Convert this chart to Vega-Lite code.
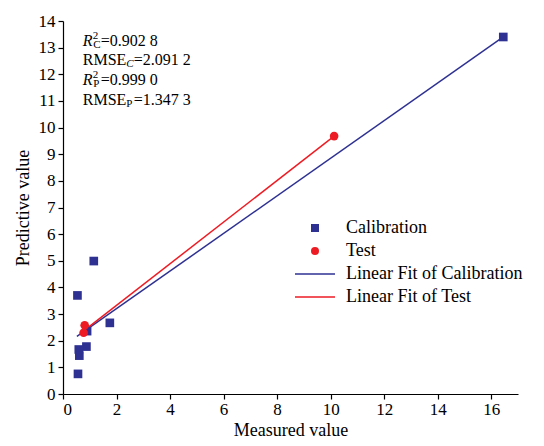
{
  "$schema": "https://vega.github.io/schema/vega-lite/v6.json",
  "width": 455,
  "height": 373,
  "autosize": "none",
  "padding": {"left": 63, "top": 21, "right": 26, "bottom": 52},
  "background": "white",
  "config": {
    "font": "Liberation Serif",
    "view": {"stroke": null},
    "axis": {
      "labelFont": "Liberation Serif", "titleFont": "Liberation Serif",
      "labelFontSize": 17, "titleFontSize": 18, "titleFontWeight": "normal",
      "labelColor": "black", "titleColor": "black", "domainColor": "black", "tickColor": "black",
      "grid": false, "tickSize": 5, "domainWidth": 1.2, "tickWidth": 1.2, "labelOverlap": false
    },
    "axisX": {"values": [0,1,2,3,4,5,6,7,8,9,10,11,12,13,14,15,16,17], "labelPadding": 2, "titlePadding": 4},
    "axisY": {"values": [0,1,2,3,4,5,6,7,8,9,10,11,12,13,14], "labelPadding": 3, "titlePadding": 6}
  },
  "datasets": {
    "points": [
      {"series": "Calibration", "measured": 0.54, "predicted": 3.70},
      {"series": "Calibration", "measured": 1.15, "predicted": 4.99},
      {"series": "Calibration", "measured": 1.75, "predicted": 2.67},
      {"series": "Calibration", "measured": 0.90, "predicted": 2.36},
      {"series": "Calibration", "measured": 0.875, "predicted": 1.78},
      {"series": "Calibration", "measured": 0.59, "predicted": 1.67},
      {"series": "Calibration", "measured": 0.61, "predicted": 1.44},
      {"series": "Calibration", "measured": 0.56, "predicted": 0.755},
      {"series": "Calibration", "measured": 16.45, "predicted": 13.4},
      {"series": "Test", "measured": 0.81, "predicted": 2.58},
      {"series": "Test", "measured": 0.77, "predicted": 2.30},
      {"series": "Test", "measured": 10.13, "predicted": 9.68}
    ],
    "fits": [
      {"series": "Linear Fit of Calibration", "measured": 0.52, "predicted": 2.16},
      {"series": "Linear Fit of Calibration", "measured": 16.45, "predicted": 13.4},
      {"series": "Linear Fit of Test", "measured": 0.75, "predicted": 2.35},
      {"series": "Linear Fit of Test", "measured": 10.13, "predicted": 9.68}
    ],
    "stats": [
      {"stat": "R2C", "head": "R", "sup": "2", "sub": "C", "val": " =0.902 8"},
      {"stat": "RMSEC", "head": "RMSE", "sup": "", "sub": "C", "val": "=2.091 2"},
      {"stat": "R2P", "head": "R", "sup": "2", "sub": "P", "val": "=0.999 0"},
      {"stat": "RMSEP", "head": "RMSE", "sup": "", "sub": "P", "val": "=1.347 3"}
    ]
  },
  "layer": [
    {
      "data": {"name": "fits"},
      "mark": {"type": "line", "strokeWidth": 1.5},
      "encoding": {
        "x": {
          "field": "measured", "type": "quantitative",
          "scale": {"domain": [0, 17], "nice": false, "zero": false},
          "axis": {"title": "Measured value", "encode": {"labels": {"update": {"font": {"value": "Liberation Serif"}, "fontSize": {"value": 17}, "fill": {"value": "black"}}}}}
        },
        "y": {
          "field": "predicted", "type": "quantitative",
          "scale": {"domain": [0, 14], "nice": false, "zero": false},
          "axis": {"title": "Predictive value", "encode": {"labels": {"update": {"font": {"value": "Liberation Serif"}, "fontSize": {"value": 17}, "fill": {"value": "black"}}}}}
        },
        "color": {
          "field": "series", "type": "nominal",
          "scale": {
            "domain": ["Calibration", "Test", "Linear Fit of Calibration", "Linear Fit of Test"],
            "range": ["#2E3192", "#ED1C24", "#2E3192", "#ED1C24"]
          },
          "legend": {
            "title": null, "orient": "none", "legendX": 243, "legendY": 198,
            "labelFont": "Liberation Serif", "labelFontSize": 18, "labelColor": "black",
            "labelOffset": 22, "labelLimit": 0, "rowPadding": 5, "symbolSize": 64, "padding": 0,
            "encode": {"symbols": {"update": {"fill": {"scale": "color", "field": "value"}, "strokeWidth": {"value": 0}, "opacity": {"value": 1}}}}
          }
        },
        "detail": {"field": "series"}
      }
    },
    {
      "data": {"name": "points"},
      "mark": {"type": "point", "filled": true, "size": 75, "opacity": 1},
      "encoding": {
        "x": {"field": "measured", "type": "quantitative", "title": "Measured value"},
        "y": {"field": "predicted", "type": "quantitative", "title": "Predictive value"},
        "color": {"field": "series", "type": "nominal"},
        "shape": {
          "field": "series", "type": "nominal",
          "scale": {
            "domain": ["Calibration", "Test", "Linear Fit of Calibration", "Linear Fit of Test"],
            "range": ["square", "circle", "M-5,-0.19H5V0.19H-5Z", "M-5,-0.19H5V0.19H-5Z"]
          },
          "legend": {
            "title": null, "orient": "none", "legendX": 243, "legendY": 198,
            "labelFont": "Liberation Serif", "labelFontSize": 18, "labelColor": "black",
            "labelOffset": 22, "labelLimit": 0, "rowPadding": 5, "symbolSize": 64, "padding": 0,
            "encode": {"symbols": {"update": {"fill": {"scale": "color", "field": "value"}, "strokeWidth": {"value": 0}, "opacity": {"value": 1}}}}
          }
        }
      }
    },
    {"data": {"name": "stats"}, "transform": [{"filter": "datum.stat == 'R2C'"}],
     "mark": {"type": "text", "font": "Liberation Serif", "fontSize": 16, "fontStyle": "italic", "align": "left", "baseline": "middle", "color": "black"},
     "encoding": {"x": {"datum": 0.74, "type": "quantitative", "title": "Measured value"}, "y": {"datum": 13.25, "type": "quantitative", "title": "Predictive value"}, "text": {"field": "head"}}},
    {"data": {"name": "stats"}, "transform": [{"filter": "datum.stat == 'R2C'"}],
     "mark": {"type": "text", "font": "Liberation Serif", "fontSize": 11, "dx": 10, "dy": -5, "align": "left", "baseline": "middle", "color": "black"},
     "encoding": {"x": {"datum": 0.74, "type": "quantitative", "title": "Measured value"}, "y": {"datum": 13.25, "type": "quantitative", "title": "Predictive value"}, "text": {"field": "sup"}}},
    {"data": {"name": "stats"}, "transform": [{"filter": "datum.stat == 'R2C'"}],
     "mark": {"type": "text", "font": "Liberation Serif", "fontSize": 11, "dx": 10.5, "dy": 4, "align": "left", "baseline": "middle", "color": "black"},
     "encoding": {"x": {"datum": 0.74, "type": "quantitative", "title": "Measured value"}, "y": {"datum": 13.25, "type": "quantitative", "title": "Predictive value"}, "text": {"field": "sub"}}},
    {"data": {"name": "stats"}, "transform": [{"filter": "datum.stat == 'R2C'"}],
     "mark": {"type": "text", "font": "Liberation Serif", "fontSize": 16, "dx": 18, "align": "left", "baseline": "middle", "color": "black"},
     "encoding": {"x": {"datum": 0.74, "type": "quantitative", "title": "Measured value"}, "y": {"datum": 13.25, "type": "quantitative", "title": "Predictive value"}, "text": {"field": "val"}}},
    {"data": {"name": "stats"}, "transform": [{"filter": "datum.stat == 'RMSEC'"}],
     "mark": {"type": "text", "font": "Liberation Serif", "fontSize": 16, "align": "left", "baseline": "middle", "color": "black"},
     "encoding": {"x": {"datum": 0.74, "type": "quantitative", "title": "Measured value"}, "y": {"datum": 12.53, "type": "quantitative", "title": "Predictive value"}, "text": {"field": "head"}}},
    {"data": {"name": "stats"}, "transform": [{"filter": "datum.stat == 'RMSEC'"}],
     "mark": {"type": "text", "font": "Liberation Serif", "fontSize": 11, "fontStyle": "italic", "dx": 43.5, "dy": 4, "align": "left", "baseline": "middle", "color": "black"},
     "encoding": {"x": {"datum": 0.74, "type": "quantitative", "title": "Measured value"}, "y": {"datum": 12.53, "type": "quantitative", "title": "Predictive value"}, "text": {"field": "sub"}}},
    {"data": {"name": "stats"}, "transform": [{"filter": "datum.stat == 'RMSEC'"}],
     "mark": {"type": "text", "font": "Liberation Serif", "fontSize": 16, "dx": 51, "align": "left", "baseline": "middle", "color": "black"},
     "encoding": {"x": {"datum": 0.74, "type": "quantitative", "title": "Measured value"}, "y": {"datum": 12.53, "type": "quantitative", "title": "Predictive value"}, "text": {"field": "val"}}},
    {"data": {"name": "stats"}, "transform": [{"filter": "datum.stat == 'R2P'"}],
     "mark": {"type": "text", "font": "Liberation Serif", "fontSize": 16, "fontStyle": "italic", "align": "left", "baseline": "middle", "color": "black"},
     "encoding": {"x": {"datum": 0.74, "type": "quantitative", "title": "Measured value"}, "y": {"datum": 11.78, "type": "quantitative", "title": "Predictive value"}, "text": {"field": "head"}}},
    {"data": {"name": "stats"}, "transform": [{"filter": "datum.stat == 'R2P'"}],
     "mark": {"type": "text", "font": "Liberation Serif", "fontSize": 11, "dx": 10, "dy": -5, "align": "left", "baseline": "middle", "color": "black"},
     "encoding": {"x": {"datum": 0.74, "type": "quantitative", "title": "Measured value"}, "y": {"datum": 11.78, "type": "quantitative", "title": "Predictive value"}, "text": {"field": "sup"}}},
    {"data": {"name": "stats"}, "transform": [{"filter": "datum.stat == 'R2P'"}],
     "mark": {"type": "text", "font": "Liberation Serif", "fontSize": 11, "dx": 10.5, "dy": 4, "align": "left", "baseline": "middle", "color": "black"},
     "encoding": {"x": {"datum": 0.74, "type": "quantitative", "title": "Measured value"}, "y": {"datum": 11.78, "type": "quantitative", "title": "Predictive value"}, "text": {"field": "sub"}}},
    {"data": {"name": "stats"}, "transform": [{"filter": "datum.stat == 'R2P'"}],
     "mark": {"type": "text", "font": "Liberation Serif", "fontSize": 16, "dx": 18, "align": "left", "baseline": "middle", "color": "black"},
     "encoding": {"x": {"datum": 0.74, "type": "quantitative", "title": "Measured value"}, "y": {"datum": 11.78, "type": "quantitative", "title": "Predictive value"}, "text": {"field": "val"}}},
    {"data": {"name": "stats"}, "transform": [{"filter": "datum.stat == 'RMSEP'"}],
     "mark": {"type": "text", "font": "Liberation Serif", "fontSize": 16, "align": "left", "baseline": "middle", "color": "black"},
     "encoding": {"x": {"datum": 0.74, "type": "quantitative", "title": "Measured value"}, "y": {"datum": 11.03, "type": "quantitative", "title": "Predictive value"}, "text": {"field": "head"}}},
    {"data": {"name": "stats"}, "transform": [{"filter": "datum.stat == 'RMSEP'"}],
     "mark": {"type": "text", "font": "Liberation Serif", "fontSize": 11, "dx": 43.5, "dy": 4, "align": "left", "baseline": "middle", "color": "black"},
     "encoding": {"x": {"datum": 0.74, "type": "quantitative", "title": "Measured value"}, "y": {"datum": 11.03, "type": "quantitative", "title": "Predictive value"}, "text": {"field": "sub"}}},
    {"data": {"name": "stats"}, "transform": [{"filter": "datum.stat == 'RMSEP'"}],
     "mark": {"type": "text", "font": "Liberation Serif", "fontSize": 16, "dx": 51, "align": "left", "baseline": "middle", "color": "black"},
     "encoding": {"x": {"datum": 0.74, "type": "quantitative", "title": "Measured value"}, "y": {"datum": 11.03, "type": "quantitative", "title": "Predictive value"}, "text": {"field": "val"}}}
  ]
}
